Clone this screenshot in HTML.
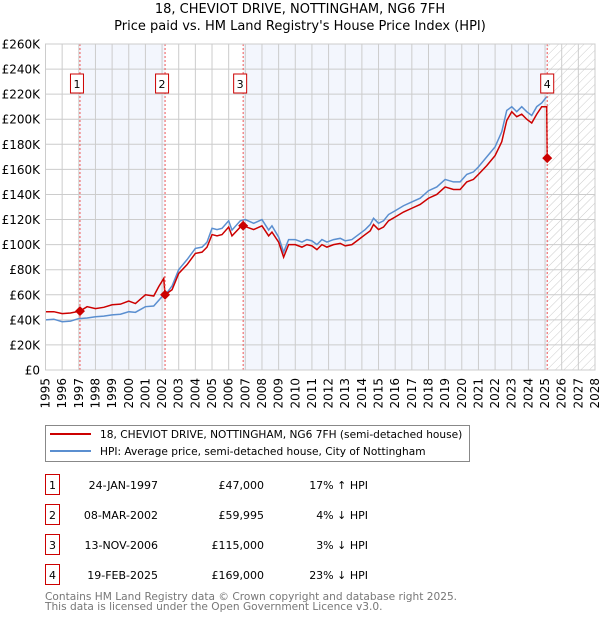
<!DOCTYPE html>
<html><head><meta charset="utf-8"><style>
body{margin:0;background:#fff;font-family:"DejaVu Sans","Liberation Sans",sans-serif;}
svg text{font-family:"DejaVu Sans","Liberation Sans",sans-serif;}
</style></head><body>
<svg id="chart" width="600" height="620" viewBox="0 0 600 620" xmlns="http://www.w3.org/2000/svg">
<defs><pattern id="hatch" width="6" height="6" patternUnits="userSpaceOnUse" patternTransform="rotate(45)"><line x1="0" y1="0" x2="0" y2="6" stroke="#ccc" stroke-width="1"/></pattern></defs>
<text x="300" y="13" text-anchor="middle" font-size="13">18, CHEVIOT DRIVE, NOTTINGHAM, NG6 7FH</text>
<text x="300" y="30" text-anchor="middle" font-size="13">Price paid vs. HM Land Registry's House Price Index (HPI)</text>
<g id="bg"></g><g id="grid"></g><g id="series"></g><g id="marks"></g><g id="axes"></g>
<rect x="45.5" y="425.5" width="424" height="36" fill="#fff" stroke="#888"/>
<line x1="50" y1="434" x2="91" y2="434" stroke="#cc0000" stroke-width="2"/>
<text x="100" y="438" font-size="10.6">18, CHEVIOT DRIVE, NOTTINGHAM, NG6 7FH (semi-detached house)</text>
<line x1="50" y1="451" x2="91" y2="451" stroke="#5b8fd0" stroke-width="2"/>
<text x="100" y="455" font-size="10.6">HPI: Average price, semi-detached house, City of Nottingham</text>
<g id="table" font-size="11"></g>
<text x="45" y="600" font-size="10.6" fill="#777">Contains HM Land Registry data © Crown copyright and database right 2025.</text>
<text x="45" y="610" font-size="10.6" fill="#777">This data is licensed under the Open Government Licence v3.0.</text>
</svg>
<script>
const hpiYears=[1995.0,1995.5,1996.0,1996.5,1997.0,1997.5,1998.0,1998.5,1999.0,1999.5,2000.0,2000.4,2001.0,2001.5,2002.0,2002.2,2002.6,2003.0,2003.5,2004.0,2004.4,2004.7,2005.0,2005.3,2005.6,2006.0,2006.2,2006.7,2007.0,2007.5,2008.0,2008.4,2008.6,2009.0,2009.3,2009.6,2010.0,2010.4,2010.7,2011.0,2011.3,2011.6,2011.9,2012.3,2012.7,2013.0,2013.4,2013.8,2014.2,2014.5,2014.7,2015.0,2015.3,2015.6,2016.0,2016.5,2017.0,2017.5,2018.0,2018.5,2019.0,2019.5,2019.9,2020.3,2020.7,2021.0,2021.5,2022.0,2022.4,2022.7,2023.0,2023.3,2023.6,2023.9,2024.2,2024.5,2024.8,2025.1];
const hpiValues=[40,40.5,38.5,39,41,41.5,42.5,43,44,44.5,46.5,46,50.5,51,58.5,60,67,80,88,97,98,102,113,112,113,119,111.6,119,120,117,120,111.6,115,106,94,104,104,102,104,103,100,104,102,104,105,103,104,108,112,116,121,117,119,124,127,131,134,137,143,146,152,150,150,156,158,162,170,178,190,207,210,206,210,206,203,210,213,218];
const priceYears=[1995.0,1995.5,1996.0,1996.5,1997.07,1997.5,1998.0,1998.5,1999.0,1999.5,2000.0,2000.4,2001.0,2001.5,2001.8,2002.1,2002.18,2002.6,2003.0,2003.5,2004.0,2004.4,2004.7,2005.0,2005.3,2005.6,2006.0,2006.2,2006.7,2006.87,2007.5,2008.0,2008.4,2008.6,2009.0,2009.3,2009.6,2010.0,2010.4,2010.7,2011.0,2011.3,2011.6,2011.9,2012.3,2012.7,2013.0,2013.4,2013.8,2014.2,2014.5,2014.7,2015.0,2015.3,2015.6,2016.0,2016.5,2017.0,2017.5,2018.0,2018.5,2019.0,2019.5,2019.9,2020.3,2020.7,2021.0,2021.5,2022.0,2022.4,2022.7,2023.0,2023.3,2023.6,2023.9,2024.2,2024.5,2024.8,2025.1,2025.13];
const priceValues=[46.5,46.5,45,45.5,47,50.5,49,50,52,52.5,55,53,60,59,66.5,73,60,64,77,84,93,94,98,108,107,108,114,107,114,115,112,115,107,110,102,90,100,100,98,100,99,96,100,98,100,101,99,100,104,108,111,116,112,114,119,122,126,129,132,137,140,146,144,144,150,152,156,163,171,182,199,206,202,204,200,197,204,210,210,169];
const sales=[{n:"1",t:1997.07,v:47,d:"24-JAN-1997",p:"£47,000",h:"17% ↑ HPI"},{n:"2",t:2002.18,v:59.995,d:"08-MAR-2002",p:"£59,995",h:"4% ↓ HPI"},{n:"3",t:2006.87,v:115,d:"13-NOV-2006",p:"£115,000",h:"3% ↓ HPI"},{n:"4",t:2025.13,v:169,d:"19-FEB-2025",p:"£169,000",h:"23% ↓ HPI"}];
const yTicks=[0,20,40,60,80,100,120,140,160,180,200,220,240,260];
const X0=45.5,X1=595,Y0=370,Y1=44,T0=1995,T1=2028;
const xs=t=>X0+(t-T0)*(X1-X0)/(T1-T0);
const ys=v=>Y0-v*(Y0-Y1)/260;
const NS="http://www.w3.org/2000/svg";
function mk(tag,attrs,parent,txt){const e=document.createElementNS(NS,tag);for(const k in attrs)e.setAttribute(k,attrs[k]);if(txt!==undefined)e.textContent=txt;document.getElementById(parent).appendChild(e);return e;}
let e;
e=mk('rect',{x:xs(sales[0].t),y:Y1,width:xs(sales[1].t)-xs(sales[0].t),height:Y0-Y1,fill:'#f3f6fd'},'bg');


e=mk('rect',{x:xs(sales[2].t),y:Y1,width:xs(sales[3].t)-xs(sales[2].t),height:Y0-Y1,fill:'#f3f6fd'},'bg');


e=mk('rect',{x:xs(sales[3].t),y:Y1,width:X1-xs(sales[3].t),height:Y0-Y1,fill:'url(#hatch)'},'bg');


for(let y=T0;y<=T1;y++){
 e=mk('line',{x1:xs(y),x2:xs(y),y1:Y1,y2:Y0,stroke:'#ccc','stroke-width':1},'grid');
 
 
 const tx=xs(y)+4;
 e=mk('text',{x:0,y:0,transform:`translate(${tx},378) rotate(-90)`,'text-anchor':'end','font-size':12},'axes',String(y));
 
 
}
for(const v of yTicks){
 e=mk('line',{x1:X0,x2:X1,y1:ys(v),y2:ys(v),stroke:'#ccc','stroke-width':1},'grid');
 
 
 e=mk('text',{x:40,y:ys(v)+4.5,'text-anchor':'end','font-size':12},'axes',v===0?'£0':'£'+v+'K');
 
 
}
e=mk('polyline',{points:hpiYears.map((t,i)=>xs(t)+','+ys(hpiValues[i])).join(' '),fill:'none',stroke:'#5b8fd0','stroke-width':1.5},'series');


e=mk('polyline',{points:priceYears.map((t,i)=>xs(t)+','+ys(priceValues[i])).join(' '),fill:'none',stroke:'#cc0000','stroke-width':1.5},'series');


sales.forEach((s,i)=>{
 const x=xs(s.t);
 e=mk('line',{x1:x,x2:x,y1:Y1,y2:Y0,stroke:'#ee5555','stroke-width':1,'stroke-dasharray':'2,2'},'marks');
 
 
 e=mk('rect',{x:x-(i===3?6.5:9.5),y:74,width:13,height:19,fill:'#fff',stroke:'#cc0000'},'marks');
 
 
 e=mk('text',{x:x-(i===3?0:3),y:88,'text-anchor':'middle','font-size':11},'marks',s.n);
 
 
 const y=ys(s.v);
 e=mk('polygon',{points:`${x},${y-5} ${x+5},${y} ${x},${y+5} ${x-5},${y}`,fill:'#cc0000'},'marks');
 
 
 const ry=485+i*30;
 e=mk('rect',{x:45.5,y:ry-10.5,width:14,height:20,fill:'#fff',stroke:'#cc0000'},'table');
 
 
 e=mk('text',{x:52.5,y:ry+4,'text-anchor':'middle'},'table',s.n);
 
 
 e=mk('text',{x:158,y:ry+4,'text-anchor':'end'},'table',s.d);
 
 
 e=mk('text',{x:264,y:ry+4,'text-anchor':'end'},'table',s.p);
 
 
 e=mk('text',{x:368,y:ry+4,'text-anchor':'end'},'table',s.h);
 
 
});
e=mk('rect',{x:X0,y:Y1,width:X1-X0,height:Y0-Y1,fill:'none',stroke:'#ccc'},'axes');


</script>
</body></html>
